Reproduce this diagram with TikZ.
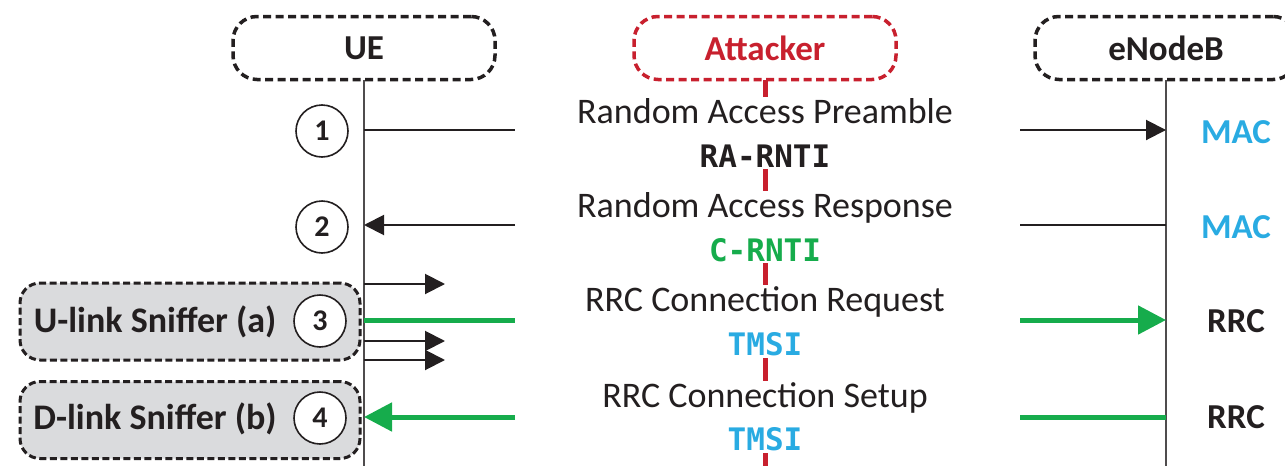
\documentclass[tikz,border=0pt]{standalone}
\usepackage{fontspec}
\setmainfont{Carlito}
\newfontfamily\codefont{DejaVu Sans Mono}
\usetikzlibrary{arrows.meta}

\definecolor{atkred}{RGB}{200,32,46}
\definecolor{layerblue}{RGB}{41,171,226}
\definecolor{idgreen}{RGB}{22,172,76}
\definecolor{boxgrey}{RGB}{218,219,221}
\definecolor{inkdark}{RGB}{35,31,32}

\newcommand{\hdfont}{\fontsize{35}{40}\selectfont\bfseries}
\newcommand{\msgfont}{\fontsize{36}{43.5}\selectfont}
\newcommand{\idfont}{\codefont\bfseries\fontsize{31}{43.5}\selectfont}

\tikzset{
  actor/.style={draw=inkdark, line width=3.5pt, dash pattern=on 8pt off 4.5pt,
    rounded corners=24pt, minimum width=262pt, minimum height=63pt,
    font=\hdfont, text=inkdark},
  life/.style={draw=inkdark!80, line width=2pt},
  attackline/.style={draw=atkred, line width=5pt},
  msgtext/.style={fill=white, inner sep=2pt, align=center, font=\msgfont, text=inkdark},
  num/.style={circle, draw=inkdark, line width=1.6pt, fill=white, minimum size=52pt,
    inner sep=0pt, font=\fontsize{30}{36}\selectfont\bfseries, text=inkdark},
  sniffbox/.style={draw=inkdark, fill=boxgrey, line width=3pt, dash pattern=on 7pt off 3.5pt,
    rounded corners=20pt, minimum width=340pt, minimum height=77pt},
  snifftext/.style={font=\fontsize{36}{40}\selectfont\bfseries, text=inkdark},
  layer/.style={font=\hdfont},
  msg/.style={draw=inkdark, line width=2pt},
  msgarrow/.style={msg, -{Triangle[length=20pt,width=20pt]}},
  greenmsg/.style={draw=idgreen, line width=5pt},
  greenarrow/.style={greenmsg, -{Triangle[length=28pt,width=28pt]}},
}

\begin{document}
\begin{tikzpicture}[x=1pt,y=-1pt]
\useasboundingbox (0,0) rectangle (1285,466);

% lifelines (drawn first, labels sit on top)
\coordinate (ueEnd) at (364,466);
\coordinate (atkEnd) at (765,466);
\coordinate (enbEnd) at (1166,466);
\draw[life] (364,80) -- (ueEnd);
\draw[attackline] (765,80) -- (atkEnd);
\draw[life] (1166,80) -- (enbEnd);

% participants
\node[actor, fill=white] (ue) at (364,48) {UE};
\node[actor, fill=white, draw=atkred, text=atkred] (atk) at (765,48) {Attacker};
\node[actor, fill=white] (enb) at (1166,48) {eNodeB};

% sniffer boxes
\node[sniffbox] (sniffU) at (190,321.5) {};
\node[sniffbox] (sniffD) at (190,420) {};
\node[snifftext] (sniffUt) at (155,322) {U-link Sniffer (a)};
\node[snifftext] (sniffDt) at (155,419) {D-link Sniffer (b)};

% step numbers
\node[num] (n1) at (322,131) {1};
\node[num] (n2) at (322,227) {2};
\node[num] (n3) at (320,321) {3};
\node[num] (n4) at (320,418) {4};

% message labels on the attacker line
\node[msgtext] (m1) at (765,133) {Random Access Preamble\\{\idfont RA-RNTI}};
\node[msgtext] (m2) at (765,227) {Random Access Response\\{\idfont\color{idgreen}C-RNTI}};
\node[msgtext] (m3) at (765,321.5) {RRC Connection Request\\{\idfont\color{layerblue}TMSI}};
\node[msgtext] (m4) at (765,417) {RRC Connection Setup\\{\idfont\color{layerblue}TMSI}};

% anchor points of the message arrows
\coordinate (u1) at (364,130);  \coordinate (l1) at (515,130);
\coordinate (r1) at (1020,130); \coordinate (e1) at (1166,130);
\coordinate (u2) at (364,225);  \coordinate (l2) at (515,225);
\coordinate (r2) at (1020,225); \coordinate (e2) at (1166,225);
\coordinate (u3) at (364,320);  \coordinate (l3) at (515,320);
\coordinate (r3) at (1020,320); \coordinate (e3) at (1166,320);
\coordinate (u4) at (364,417);  \coordinate (l4) at (515,417);
\coordinate (r4) at (1020,417); \coordinate (e4) at (1166,417);
\coordinate (ua) at (364,284);  \coordinate (ta) at (445,284);
\coordinate (ub) at (364,341);  \coordinate (tb) at (445,341);
\coordinate (uc) at (364,360);  \coordinate (tc) at (445,360);

% step 1: random access preamble
\draw[msg] (u1) -- (l1);
\draw[msgarrow] (r1) -- (e1);
% step 2: random access response
\draw[msg] (e2) -- (r2);
\draw[msgarrow] (l2) -- (u2);
% step 3: RRC connection request
\draw[msgarrow] (ua) -- (ta);
\draw[greenmsg] (u3) -- (l3);
\draw[greenarrow] (r3) -- (e3);
\draw[msgarrow] (ub) -- (tb);
\draw[msgarrow] (uc) -- (tc);
% step 4: RRC connection setup
\draw[greenarrow] (l4) -- (u4);
\draw[greenmsg] (e4) -- (r4);

% protocol layers at the eNodeB
\node[layer, text=layerblue] (lay1) at (1236,132) {MAC};
\node[layer, text=layerblue] (lay2) at (1236,227) {MAC};
\node[layer, text=inkdark] (lay3) at (1236,321) {RRC};
\node[layer, text=inkdark] (lay4) at (1236,417) {RRC};
\end{tikzpicture}
\end{document}
